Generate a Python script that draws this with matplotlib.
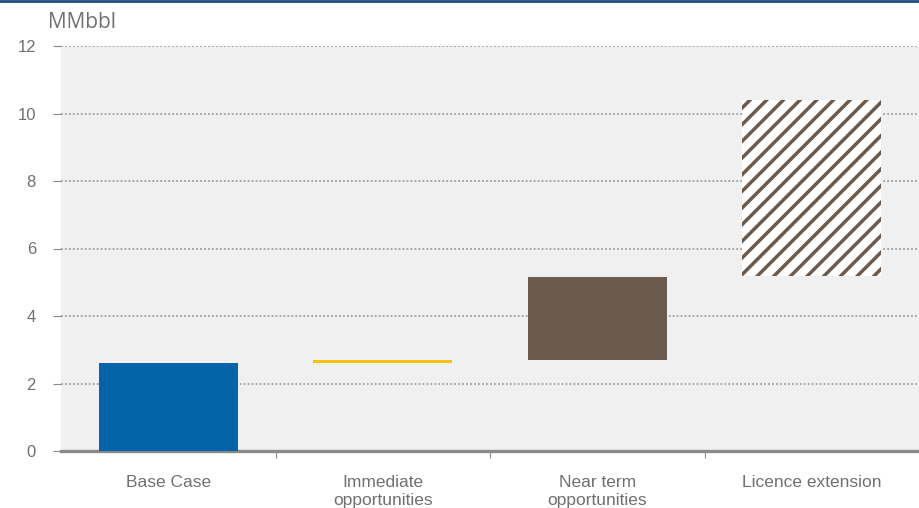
import matplotlib.pyplot as plt
from matplotlib.lines import Line2D
import numpy as np

# data (MMbbl)
categories = ['Base Case', 'Immediate\nopportunities', 'Near term\nopportunities', 'Licence extension']
bottoms = [0.0, 2.60, 2.70, 5.19]
tops = [2.61, 2.69, 5.16, 10.40]
colors = ['#0563a9', '#f5c400', '#6b5b4e', 'white']
hatches = [None, None, None, '//']
yticks = [0, 2, 4, 6, 8, 10, 12]

plt.rcParams['hatch.linewidth'] = 2.5
plt.rcParams['hatch.color'] = '#6b5b4e'

fig = plt.figure(figsize=(9.19, 5.08), dpi=100)
ax = fig.add_axes([61 / 919, 57 / 508, 858 / 919, 405 / 508])
ax.set_facecolor('#f0f0f0')

x = np.arange(len(categories))
heights = [t - b for t, b in zip(tops, bottoms)]
for i in range(len(categories)):
    ax.bar(x[i], heights[i], bottom=bottoms[i], width=0.65, color=colors[i],
           hatch=hatches[i], edgecolor='none' if hatches[i] is None else '#6b5b4e',
           linewidth=0, zorder=3)

ax.set_xlim(-0.5, 3.5)
ax.set_ylim(0, 12)
ax.set_yticks(yticks)
ax.yaxis.grid(True, linestyle=(0, (1, 1.2)), color='#a0a0a0', linewidth=1.3, zorder=1)
ax.set_axisbelow(True)

for s in ['top', 'right', 'left']:
    ax.spines[s].set_visible(False)
ax.spines['bottom'].set_color('#8a8a8a')
ax.spines['bottom'].set_linewidth(2.4)

ax.set_xticks(x)
ax.set_xticklabels(categories, fontsize=12.5, color='#707070', family='Liberation Sans',
                   linespacing=1.25)
ax.tick_params(axis='x', which='major', length=0, pad=17)
ax.set_xticks([0.5, 1.5, 2.5], minor=True)
ax.tick_params(axis='x', which='minor', length=5, width=0.8, color='#8a8a8a', direction='out')
ax.tick_params(axis='y', length=6, width=0.8, color='#8a8a8a', pad=12,
               labelsize=12, labelcolor='#707070')
for lab in ax.get_yticklabels():
    lab.set_family('Liberation Sans')

fig.text(48 / 919, 1 - 23 / 508, 'MMbbl', fontsize=15, color='#707070',
         family='Open Sans', va='center', ha='left')

# thin dark blue rule at the very top
fig.add_artist(Line2D([0, 1], [1 - 1 / 508, 1 - 1 / 508], transform=fig.transFigure,
                      color='#1c4f80', linewidth=2))

fig.savefig('out.png', dpi=100)
